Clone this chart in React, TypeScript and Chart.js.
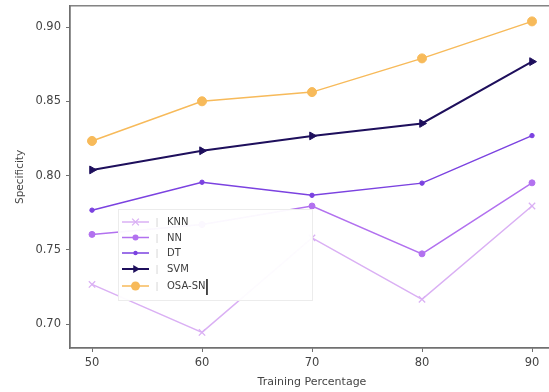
import React, { useEffect, useRef } from "react";
import { Chart, registerables } from "chart.js";

Chart.register(...registerables);

const trainingPct = [50, 60, 70, 80, 90];
const yTicks = [0.7, 0.75, 0.8, 0.85, 0.9];

const knn = [0.7267, 0.6944, 0.758, 0.7167, 0.7795];
const nn = [0.7604, 0.767, 0.7795, 0.7473, 0.7951];
const dt = [0.7767, 0.7955, 0.7867, 0.7949, 0.8269];
const svm = [0.8038, 0.8167, 0.8267, 0.8351, 0.8767];
const osaSn = [0.8233, 0.85, 0.8562, 0.8789, 0.9038];

const seriesNames = ["KNN", "NN", "DT", "SVM", "OSA-SN"];

const C_KNN = "#dab0f4";
const C_NN = "#b271ef";
const C_DT = "#7b42e0";
const C_SVM = "#1e0f5c";
const C_OSA = "#f7ba5a";

const FONT = "'DejaVu Sans', sans-serif";

function drawMarker(ctx: CanvasRenderingContext2D, style: string, r: number, x: number, y: number, color: string) {
  ctx.save();
  ctx.fillStyle = color;
  ctx.strokeStyle = color;
  if (style === "circle") {
    ctx.beginPath();
    ctx.arc(x, y, r, 0, Math.PI * 2);
    ctx.fill();
  } else if (style === "crossRot") {
    const d = r * 0.75;
    ctx.lineWidth = 1.3;
    ctx.beginPath();
    ctx.moveTo(x - d, y - d);
    ctx.lineTo(x + d, y + d);
    ctx.moveTo(x - d, y + d);
    ctx.lineTo(x + d, y - d);
    ctx.stroke();
  } else if (style === "triangle") {
    ctx.beginPath();
    ctx.moveTo(x + r, y);
    ctx.lineTo(x - r * 0.5, y - r * 0.87);
    ctx.lineTo(x - r * 0.5, y + r * 0.87);
    ctx.closePath();
    ctx.fill();
  }
  ctx.restore();
}

export default function App() {
  const ref = useRef<HTMLCanvasElement | null>(null);

  useEffect(() => {
    const canvas = ref.current;
    if (!canvas) return;

    const styles = [
      { color: C_KNN, style: "crossRot", radius: 4.5, rot: 0, width: 1.5 },
      { color: C_NN, style: "circle", radius: 3, rot: 0, width: 1.5 },
      { color: C_DT, style: "circle", radius: 2.2, rot: 0, width: 1.5 },
      { color: C_SVM, style: "triangle", radius: 4.5, rot: 90, width: 2 },
      { color: C_OSA, style: "circle", radius: 4.5, rot: 0, width: 1.5 },
    ];
    const values = [knn, nn, dt, svm, osaSn];

    const datasets = values.map((vals, i) => ({
      label: seriesNames[i],
      data: trainingPct.map((x, j) => ({ x, y: vals[j] })),
      borderColor: styles[i].color,
      backgroundColor: styles[i].color,
      borderWidth: styles[i].width,
      pointStyle: styles[i].style,
      pointRadius: styles[i].radius,
      pointRotation: styles[i].rot,
      pointBorderWidth: styles[i].style === "crossRot" ? 1.3 : 1,
      pointBorderColor: styles[i].color,
      pointBackgroundColor: styles[i].color,
      tension: 0,
      fill: false,
      order: 5 - i,
    }));

    const framePlugin = {
      id: "frame",
      afterDraw(chart: any) {
        const { ctx, chartArea } = chart;
        ctx.save();
        ctx.strokeStyle = "#707070";
        ctx.lineWidth = 1.3;
        ctx.strokeRect(chartArea.left, chartArea.top, chartArea.right - chartArea.left, chartArea.bottom - chartArea.top);
        ctx.restore();

        // legend
        const bx = 118, by = 209, bw = 194, bh = 91;
        ctx.save();
        ctx.fillStyle = "rgba(255,255,255,0.95)";
        ctx.fillRect(bx, by, bw, bh);
        ctx.strokeStyle = "#ececec";
        ctx.lineWidth = 1;
        ctx.strokeRect(bx + 0.5, by + 0.5, bw, bh);
        const rowY = [222, 237.5, 253, 269, 286];
        for (let i = 0; i < 5; i++) {
          const s = styles[i];
          const y = rowY[i];
          ctx.strokeStyle = s.color;
          ctx.lineWidth = s.width;
          ctx.beginPath();
          ctx.moveTo(122, y);
          ctx.lineTo(149, y);
          ctx.stroke();
          drawMarker(ctx, s.style, s.radius, 135.5, y, s.color);
          ctx.fillStyle = "#cfcfcf";
          ctx.font = `9px ${FONT}`;
          ctx.textAlign = "center";
          ctx.textBaseline = "middle";
          ctx.fillText("|", 157, y + 1);
          ctx.fillStyle = "#3c3c3c";
          ctx.font = `10px ${FONT}`;
          ctx.textAlign = "left";
          ctx.fillText(seriesNames[i], 167, y + 0.5);
        }
        const w = ctx.measureText(seriesNames[4]).width;
        ctx.strokeStyle = "#111";
        ctx.lineWidth = 1.5;
        ctx.beginPath();
        ctx.moveTo(167 + w + 1.5, 279);
        ctx.lineTo(167 + w + 1.5, 295);
        ctx.stroke();
        ctx.restore();
      },
    };

    const chart = new Chart(canvas, {
      type: "line",
      data: { datasets: datasets as any },
      options: {
        animation: false,
        responsive: false,
        events: [],
        layout: { padding: { left: 0, top: 2, right: 6, bottom: 0 } },
        plugins: {
          legend: { display: false },
          tooltip: { enabled: false },
        },
        scales: {
          x: {
            type: "linear",
            min: 48,
            max: 92,
            afterBuildTicks: (scale: any) => {
              scale.ticks = trainingPct.map((v) => ({ value: v }));
            },
            afterFit: (scale: any) => {
              scale.height = 44;
              scale.paddingLeft = 0;
              scale.paddingRight = 0;
            },
            grid: { display: true, drawOnChartArea: false, drawTicks: true, tickLength: 4, color: "#707070", lineWidth: 1 },
            border: { display: true, color: "#707070", width: 1.3 },
            ticks: {
              font: { family: FONT, size: 11.5 },
              color: "#444",
              padding: 4,
              maxRotation: 0,
              autoSkip: false,
              callback: (v: any) => String(v),
            },
            title: {
              display: true,
              text: "Training Percentage",
              font: { family: FONT, size: 11 },
              color: "#444",
              padding: { top: 0, bottom: 3.5 },
            },
          },
          y: {
            type: "linear",
            min: 0.6839,
            max: 0.9143,
            afterBuildTicks: (scale: any) => {
              scale.ticks = yTicks.map((v) => ({ value: v }));
            },
            afterFit: (scale: any) => {
              scale.width = 70;
              scale.paddingTop = 0;
              scale.paddingBottom = 0;
            },
            grid: { display: true, drawOnChartArea: false, drawTicks: true, tickLength: 4, color: "#707070", lineWidth: 1 },
            border: { display: true, color: "#707070", width: 1.3 },
            ticks: {
              font: { family: FONT, size: 11.5 },
              color: "#444",
              padding: 5,
              autoSkip: false,
              callback: (v: any) => Number(v).toFixed(2),
            },
            title: {
              display: true,
              text: "Specificity",
              font: { family: FONT, size: 10.5 },
              color: "#444",
              padding: { top: 13.5, bottom: 0 },
            },
          },
        },
      },
      plugins: [framePlugin],
    });

    return () => chart.destroy();
  }, []);

  return (
    <div style={{ position: "fixed", left: 0, top: 0, width: 549, height: 392, overflow: "hidden", background: "#fff" }}>
      <canvas ref={ref} width={560} height={392} style={{ display: "block", width: 560, height: 392 }} />
    </div>
  );
}
